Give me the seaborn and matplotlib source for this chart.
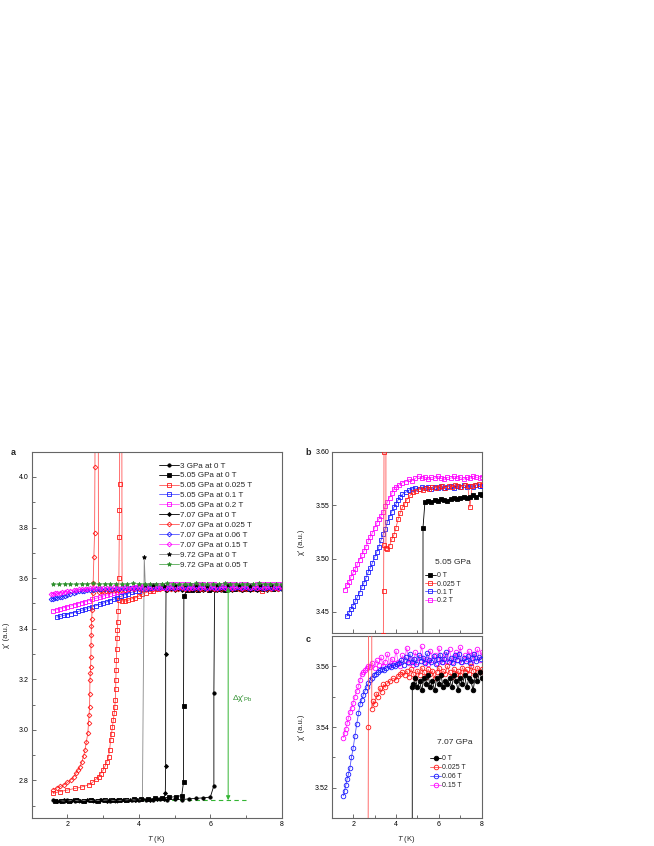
import matplotlib
matplotlib.use("Agg")
import matplotlib.pyplot as plt
import seaborn as sns
from matplotlib.ticker import MultipleLocator, FormatStrFormatter

# ---------------- data ----------------
# 3 GPa at 0 T
g3_T = [1.6, 1.8, 2.0, 2.2, 2.4, 2.6, 2.8, 3.0, 3.2, 3.4, 3.6, 3.8, 4.0, 4.2, 4.4, 4.6, 4.8, 5.0, 5.2, 5.4,
        5.6, 5.8, 6.0, 6.1, 6.1, 6.12, 6.3, 6.5, 6.7, 6.9, 7.1, 7.3, 7.5, 7.7, 7.9, 8.0]
g3_chi = [2.721, 2.719, 2.722, 2.720, 2.718, 2.721, 2.719, 2.722, 2.720, 2.721, 2.723, 2.721, 2.722, 2.724,
          2.722, 2.725, 2.723, 2.726, 2.724, 2.727, 2.729, 2.731, 2.734, 2.779, 3.145, 3.552,
          3.554, 3.553, 3.555, 3.554, 3.556, 3.555, 3.557, 3.556, 3.558, 3.557]

# 5.05 GPa (panel a and b)
p5_0T_T = [1.65, 1.85, 2.05, 2.25, 2.45, 2.65, 2.85, 3.05, 3.25, 3.45, 3.65, 3.85, 4.05, 4.25, 4.45, 4.65,
           4.85, 5.05, 5.2, 5.25, 5.25, 5.26, 5.35, 5.5, 5.65, 5.8, 5.95, 6.1, 6.25, 6.4, 6.55, 6.7, 6.85,
           7.0, 7.15, 7.3, 7.45, 7.6, 7.75, 7.9, 8.0]
p5_0T_chi = [2.717, 2.720, 2.718, 2.721, 2.719, 2.722, 2.720, 2.723, 2.721, 2.724, 2.722, 2.725, 2.727,
             2.726, 2.729, 2.731, 2.733, 2.736, 2.740, 2.794, 3.094, 3.529, 3.553, 3.554, 3.553, 3.555,
             3.554, 3.556, 3.555, 3.554, 3.556, 3.557, 3.556, 3.557, 3.558, 3.557, 3.558, 3.559, 3.558,
             3.560, 3.559]

p5_0025T_T = [1.6, 1.8, 2.0, 2.2, 2.4, 2.6, 2.7, 2.8, 2.87, 2.93, 3.0, 3.05, 3.1, 3.15, 3.18, 3.21, 3.235,
              3.26, 3.285, 3.31, 3.325, 3.34, 3.35, 3.355, 3.362, 3.37, 3.38, 3.39, 3.40, 3.41, 3.42, 3.43,
              3.44, 3.45, 3.455, 3.46, 3.47, 3.52, 3.53, 3.6, 3.7, 3.8, 3.9, 4.0, 4.1, 4.2, 4.3, 4.4, 4.5,
              4.65, 4.8, 4.95, 5.1, 5.25, 5.4, 5.55, 5.7, 5.85, 6.0, 6.15, 6.3, 6.45, 6.6, 6.75, 6.9, 7.05,
              7.2, 7.35, 7.45, 7.55, 7.7, 7.85, 8.0]
p5_0025T_chi = [2.749, 2.756, 2.762, 2.768, 2.774, 2.783, 2.792, 2.805, 2.815, 2.827, 2.841, 2.855, 2.872,
                2.893, 2.920, 2.960, 2.985, 3.012, 3.040, 3.065, 3.090, 3.118, 3.160, 3.197, 3.235, 3.276,
                3.320, 3.362, 3.395, 3.428, 3.470, 3.513, 3.600, 3.763, 3.870, 3.974, 4.500, 4.500, 3.510,
                3.509, 3.512, 3.518, 3.522, 3.529, 3.537, 3.543, 3.548, 3.551, 3.555, 3.559, 3.562, 3.563,
                3.565, 3.564, 3.566, 3.565, 3.567, 3.566, 3.567, 3.568, 3.566, 3.568, 3.567, 3.569, 3.568,
                3.567, 3.569, 3.568, 3.548, 3.568, 3.569, 3.570, 3.569]

p5_01T_T = [1.7, 1.8, 1.9, 2.0, 2.1, 2.2, 2.3, 2.4, 2.5, 2.6, 2.7, 2.8, 2.9, 3.0, 3.1, 3.2, 3.3, 3.4, 3.5,
            3.6, 3.7, 3.8, 3.9, 4.0, 4.1, 4.2, 4.3, 4.45, 4.6, 4.75, 4.9, 5.05, 5.2, 5.35, 5.5, 5.65, 5.8,
            5.95, 6.1, 6.25, 6.4, 6.55, 6.7, 6.85, 7.0, 7.15, 7.3, 7.45, 7.6, 7.75, 7.9, 8.0]
p5_01T_chi = [3.446, 3.449, 3.453, 3.456, 3.460, 3.464, 3.468, 3.473, 3.477, 3.482, 3.487, 3.491, 3.496,
              3.501, 3.506, 3.511, 3.517, 3.523, 3.528, 3.534, 3.539, 3.544, 3.548, 3.551, 3.555, 3.558,
              3.560, 3.562, 3.564, 3.565, 3.566, 3.565, 3.567, 3.566, 3.567, 3.565, 3.567, 3.566, 3.568,
              3.566, 3.567, 3.568, 3.566, 3.568, 3.567, 3.569, 3.567, 3.568, 3.567, 3.569, 3.568, 3.568]

p5_02T_T = [1.6, 1.7, 1.8, 1.9, 2.0, 2.1, 2.2, 2.3, 2.4, 2.5, 2.6, 2.7, 2.8, 2.9, 3.0, 3.1, 3.2, 3.3, 3.4,
            3.5, 3.6, 3.7, 3.8, 3.9, 4.0, 4.15, 4.3, 4.45, 4.6, 4.75, 4.9, 5.05, 5.2, 5.35, 5.5, 5.65, 5.8,
            5.95, 6.1, 6.25, 6.4, 6.55, 6.7, 6.85, 7.0, 7.15, 7.3, 7.45, 7.6, 7.75, 7.9, 8.0]
p5_02T_chi = [3.471, 3.475, 3.478, 3.483, 3.487, 3.490, 3.495, 3.499, 3.503, 3.507, 3.511, 3.516, 3.520,
              3.524, 3.529, 3.533, 3.537, 3.540, 3.544, 3.549, 3.553, 3.557, 3.561, 3.565, 3.567, 3.569,
              3.571, 3.572, 3.574, 3.573, 3.575, 3.577, 3.575, 3.576, 3.574, 3.576, 3.575, 3.577, 3.575,
              3.574, 3.576, 3.575, 3.577, 3.575, 3.576, 3.574, 3.576, 3.575, 3.577, 3.576, 3.575, 3.576]

# 7.07 GPa (panel a and c)
p7_0T_T = [1.7, 1.9, 2.1, 2.3, 2.5, 2.7, 2.9, 3.1, 3.3, 3.5, 3.7, 3.9, 4.1, 4.3, 4.5, 4.7, 4.74, 4.75, 4.75,
           4.76, 4.8, 4.9, 5.0, 5.1, 5.2, 5.3, 5.4, 5.5, 5.6, 5.7, 5.8, 5.9, 6.0, 6.1, 6.2, 6.3, 6.4, 6.5,
           6.6, 6.7, 6.8, 6.9, 7.0, 7.1, 7.2, 7.3, 7.4, 7.5, 7.6, 7.7, 7.8, 7.9, 8.0]
p7_0T_chi = [2.719, 2.721, 2.718, 2.722, 2.720, 2.721, 2.723, 2.720, 2.722, 2.724, 2.721, 2.723, 2.725,
             2.724, 2.726, 2.728, 2.749, 2.856, 3.299, 3.553, 3.554, 3.556, 3.553, 3.555, 3.552, 3.556,
             3.554, 3.557, 3.553, 3.555, 3.552, 3.556, 3.554, 3.557, 3.553, 3.555, 3.554, 3.556, 3.553,
             3.557, 3.555, 3.552, 3.556, 3.554, 3.557, 3.553, 3.556, 3.555, 3.552, 3.557, 3.555, 3.558,
             3.556]

p7_0025T_T = [1.6, 1.7, 1.8, 1.9, 2.0, 2.1, 2.17, 2.25, 2.3, 2.35, 2.4, 2.45, 2.49, 2.53, 2.57, 2.59, 2.605,
              2.62, 2.625, 2.63, 2.64, 2.65, 2.655, 2.66, 2.665, 2.67, 2.68, 2.69, 2.71, 2.72, 2.74, 2.76,
              2.77, 2.78, 2.86, 2.87, 2.94, 3.0, 3.08, 3.16, 3.25, 3.33, 3.41, 3.5, 3.6, 3.72, 3.85, 4.0,
              4.1, 4.2, 4.3, 4.4, 4.5, 4.6, 4.7, 4.8, 4.9, 5.0, 5.1, 5.2, 5.3, 5.4, 5.5, 5.6, 5.7, 5.8,
              5.9, 6.0, 6.1, 6.2, 6.3, 6.4, 6.5, 6.6, 6.7, 6.8, 6.9, 7.0, 7.1, 7.2, 7.3, 7.4, 7.5, 7.6,
              7.7, 7.8, 7.9, 8.0]
p7_0025T_chi = [2.764, 2.770, 2.776, 2.782, 2.792, 2.803, 2.814, 2.830, 2.842, 2.854, 2.872, 2.895, 2.920,
                2.953, 2.986, 3.026, 3.060, 3.092, 3.140, 3.197, 3.225, 3.250, 3.290, 3.336, 3.375, 3.410,
                3.440, 3.474, 3.540, 3.580, 3.684, 3.780, 4.040, 4.600, 4.600, 3.546, 3.5485, 3.5475,
                3.5510, 3.5500, 3.5529, 3.5515, 3.5540, 3.5530, 3.5545, 3.5550, 3.5560, 3.5555, 3.5568,
                3.5575, 3.5580, 3.5570, 3.5585, 3.5565, 3.5590, 3.5575, 3.5560, 3.5585, 3.5570, 3.5595,
                3.5580, 3.5565, 3.5590, 3.5575, 3.5585, 3.5560, 3.5580, 3.5595, 3.5570, 3.5585, 3.5575,
                3.5600, 3.5580, 3.5565, 3.5590, 3.5575, 3.5585, 3.5570, 3.5595, 3.5580, 3.5590, 3.5575,
                3.5600, 3.5585, 3.5570, 3.5595, 3.5580, 3.5590]

p7_006T_T = [1.54, 1.6, 1.66, 1.72, 1.78, 1.85, 1.92, 2.0, 2.08, 2.17, 2.25, 2.32, 2.4, 2.47, 2.55, 2.63,
             2.71, 2.79, 2.87, 2.95, 3.05, 3.15, 3.25, 3.35, 3.45, 3.55, 3.65, 3.75, 3.85, 3.95, 4.05,
             4.15, 4.25, 4.35, 4.45, 4.55, 4.65, 4.75, 4.85, 4.95, 5.05, 5.15, 5.25, 5.35, 5.45, 5.55,
             5.65, 5.75, 5.85, 5.95, 6.05, 6.15, 6.25, 6.35, 6.45, 6.55, 6.65, 6.75, 6.85, 6.95, 7.05,
             7.15, 7.25, 7.35, 7.45, 7.55, 7.65, 7.75, 7.85, 7.95]
p7_006T_chi = [3.5174, 3.5190, 3.5210, 3.5230, 3.5245, 3.5266, 3.5300, 3.5330, 3.5370, 3.5410, 3.5445,
               3.5474, 3.5490, 3.5505, 3.5518, 3.5530, 3.5545, 3.5555, 3.5562, 3.5570, 3.5575, 3.5580,
               3.5586, 3.5590, 3.5588, 3.5595, 3.5600, 3.5598, 3.5605, 3.5602, 3.5608,
               3.5610, 3.5620, 3.5605, 3.5630, 3.5615, 3.5640, 3.5612, 3.5625, 3.5608, 3.5635, 3.5618,
               3.5628, 3.5610, 3.5642, 3.5620, 3.5615, 3.5632, 3.5608, 3.5625, 3.5638, 3.5612, 3.5622,
               3.5645, 3.5615, 3.5628, 3.5610, 3.5635, 3.5620, 3.5640, 3.5612, 3.5626, 3.5618, 3.5634,
               3.5610, 3.5628, 3.5640, 3.5616, 3.5630, 3.5622]

p7_015T_T = [1.54, 1.6, 1.66, 1.72, 1.78, 1.85, 1.93, 2.0, 2.08, 2.17, 2.25, 2.32, 2.4, 2.48, 2.56, 2.63,
             2.71, 2.8, 2.9, 3.0, 3.1, 3.2, 3.3, 3.4, 3.5, 3.6, 3.7, 3.8, 3.9, 4.0, 4.1, 4.2, 4.3, 4.4,
             4.5, 4.6, 4.7, 4.8, 4.9, 5.0, 5.1, 5.2, 5.3, 5.4, 5.5, 5.6, 5.7, 5.8, 5.9, 6.0, 6.1, 6.2,
             6.3, 6.4, 6.5, 6.6, 6.7, 6.8, 6.9, 7.0, 7.1, 7.2, 7.3, 7.4, 7.5, 7.6, 7.7, 7.8, 7.9, 8.0]
p7_015T_chi = [3.5365, 3.5380, 3.5395, 3.5412, 3.5430, 3.5450, 3.5463, 3.5480, 3.5500, 3.5518, 3.5535,
               3.5555, 3.5573, 3.5580, 3.5588, 3.5595, 3.5600, 3.5598,
               3.5610, 3.5595, 3.5620, 3.5605, 3.5630, 3.5600, 3.5615, 3.5640, 3.5605, 3.5625,
               3.5610, 3.5650, 3.5615, 3.5600, 3.5635, 3.5620, 3.5660, 3.5610, 3.5625, 3.5605,
               3.5645, 3.5615, 3.5630, 3.5665, 3.5612, 3.5625, 3.5608, 3.5650, 3.5620, 3.5635,
               3.5610, 3.5660, 3.5625, 3.5615, 3.5640, 3.5618, 3.5655, 3.5612, 3.5630, 3.5645,
               3.5620, 3.5662, 3.5615, 3.5635, 3.5625, 3.5650, 3.5610, 3.5640, 3.5628, 3.5655,
               3.5620, 3.5645]

# 9.72 GPa
g9_0T_T = [1.75, 1.95, 2.15, 2.35, 2.55, 2.75, 2.95, 3.15, 3.35, 3.55, 3.75, 3.95, 4.1, 4.15, 4.18, 4.4,
           4.7, 5.0, 5.3, 5.6, 5.9, 6.2, 6.5, 6.8, 7.1, 7.4, 7.7, 8.0]
g9_0T_chi = [2.720, 2.718, 2.721, 2.719, 2.722, 2.720, 2.721, 2.723, 2.720, 2.722, 2.724, 2.722, 2.725,
             3.684, 3.571, 3.572, 3.570, 3.573, 3.571, 3.572, 3.570, 3.573, 3.571, 3.572, 3.570, 3.573,
             3.571, 3.572]
g9_005T_T = [1.6, 1.76, 1.92, 2.08, 2.24, 2.4, 2.56, 2.72, 2.88, 3.04, 3.2, 3.36, 3.52, 3.68, 3.84, 4.0,
             4.16, 4.32, 4.48, 4.64, 4.8, 4.96, 5.12, 5.28, 5.44, 5.6, 5.76, 5.92, 6.08, 6.24, 6.4, 6.56,
             6.72, 6.88, 7.04, 7.2, 7.36, 7.52, 7.68, 7.84, 8.0]
g9_005T_chi = [3.577, 3.576, 3.578, 3.577, 3.576, 3.578, 3.577, 3.579, 3.576, 3.578, 3.577, 3.578, 3.576,
               3.577, 3.579, 3.577, 3.578, 3.576, 3.578, 3.577, 3.579, 3.577, 3.576, 3.578, 3.577, 3.579,
               3.578, 3.576, 3.578, 3.577, 3.579, 3.577, 3.578, 3.576, 3.578, 3.577, 3.579, 3.578, 3.577,
               3.578, 3.577]

# superconducting step of Pb (panel a annotation)
pb_base = 2.722
pb_normal = 3.563
pb_arrow_T = 6.5
pb_dash_T = [3.6, 7.0]

# ---------------- style ----------------
sns.set_style("ticks")
plt.rcParams["font.family"] = ["Liberation Sans", "DejaVu Sans"]
plt.rcParams["mathtext.fontset"] = "custom"
plt.rcParams["mathtext.rm"] = "Liberation Sans"
plt.rcParams["mathtext.it"] = "Liberation Sans:italic"

BLACK = "#000000"
RED = "#ff1a1a"
BLUE = "#1a1aff"
MAG = "#ff00ff"
GREEN = "#2d8f2d"


def draw(ax, T, chi, color, marker, filled, ms, label=None, lc=None, z=2):
    sns.lineplot(x=T, y=chi, ax=ax, estimator=None, sort=False,
                 color=lc if lc else color, lw=0.6, marker=marker, markersize=ms,
                 markerfacecolor=color if filled else "none",
                 markeredgecolor=color, markeredgewidth=0.6, label=label, zorder=z)


def style_axes(ax):
    for s in ax.spines.values():
        s.set_color("#666666")
        s.set_linewidth(0.8)
    ax.tick_params(which="both", direction="in", colors="#555555", labelcolor="black",
                   labelsize=5, width=0.6, top=False, right=False)
    ax.tick_params(which="major", length=3, pad=2)
    ax.tick_params(which="minor", length=2)
    ax.set_xlim(1, 8)
    ax.xaxis.set_major_locator(MultipleLocator(2))
    ax.xaxis.set_minor_locator(MultipleLocator(1))


fig = plt.figure(figsize=(6.54, 8.46), dpi=100)
ax_a = fig.add_axes([0.0485, 0.0327, 0.3823, 0.4334])
ax_b = fig.add_axes([0.5072, 0.2514, 0.2294, 0.2147])
ax_c = fig.add_axes([0.5072, 0.0327, 0.2294, 0.2159])

# ---------------- panel a ----------------
ms_a = 2.4
draw(ax_a, g3_T, g3_chi, BLACK, "o", True, ms_a, "3 GPa at 0 T")
draw(ax_a, p5_0T_T, p5_0T_chi, BLACK, "s", True, ms_a, "5.05 GPa at 0 T")
draw(ax_a, p5_0025T_T, p5_0025T_chi, RED, "s", False, ms_a, "5.05 GPa at 0.025 T", lc="#ff5555")
draw(ax_a, p5_01T_T, p5_01T_chi, BLUE, "s", False, ms_a, "5.05 GPa at 0.1 T", lc="#5555ff")
draw(ax_a, p5_02T_T, p5_02T_chi, MAG, "s", False, ms_a, "5.05 GPa at 0.2 T", lc="#ff55ff")
draw(ax_a, p7_0T_T, p7_0T_chi, BLACK, "D", True, ms_a * 0.85, "7.07 GPa at 0 T")
draw(ax_a, p7_0025T_T, p7_0025T_chi, RED, "D", False, ms_a, "7.07 GPa at 0.025 T", lc="#ff5555")
draw(ax_a, p7_006T_T, p7_006T_chi, BLUE, "D", False, ms_a, "7.07 GPa at 0.06 T", lc="#5555ff")
draw(ax_a, p7_015T_T, p7_015T_chi, MAG, "D", False, ms_a, "7.07 GPa at 0.15 T", lc="#ff55ff")
draw(ax_a, g9_0T_T, g9_0T_chi, BLACK, "*", True, ms_a * 1.3, "9.72 GPa at 0 T", lc="#888888")
draw(ax_a, g9_005T_T, g9_005T_chi, GREEN, "*", True, ms_a * 1.3, "9.72 GPa at 0.05 T", lc="#55aa55")

ax_a.plot(pb_dash_T, [pb_base, pb_base], ls=(0, (4, 3)), color="#33b533", lw=0.8, zorder=1)
ax_a.annotate("", xy=(pb_arrow_T, pb_normal), xytext=(pb_arrow_T, pb_base),
              arrowprops=dict(arrowstyle="<|-|>", color="#33b533", lw=0.7,
                              shrinkA=0, shrinkB=0, mutation_scale=6))
ax_a.text(pb_arrow_T + 0.1, 3.125, "Δχ'$_{\\mathrm{Pb}}$", color="#2d8f2d", fontsize=6,
          ha="left", va="center")

style_axes(ax_a)
ax_a.set_ylim(2.65, 4.1)
ax_a.yaxis.set_major_locator(MultipleLocator(0.2))
ax_a.yaxis.set_minor_locator(MultipleLocator(0.1))
ax_a.yaxis.set_major_formatter(FormatStrFormatter("%.1f"))
ax_a.set_xlabel("$T$ (K)", fontsize=5.5)
ax_a.set_ylabel("χ' (a.u.)", fontsize=5.5)
ax_a.xaxis.set_label_coords(0.5, -0.044)
ax_a.yaxis.set_label_coords(-0.085, 0.5)
ax_a.legend(loc="upper left", bbox_to_anchor=(0.51, 0.972), frameon=False, fontsize=5.8,
            handlelength=2.4, handletextpad=0.2, labelspacing=0.28, borderpad=0, borderaxespad=0)

# ---------------- panel b ----------------
ms_b = 3.5
draw(ax_b, p5_0T_T, p5_0T_chi, BLACK, "s", True, ms_b, "0 T", z=5)
draw(ax_b, p5_0025T_T, p5_0025T_chi, RED, "s", False, ms_b, "0.025 T", lc="#ff5555", z=4)
draw(ax_b, p5_01T_T, p5_01T_chi, BLUE, "s", False, ms_b, "0.1 T", lc="#5555ff", z=3)
draw(ax_b, p5_02T_T, p5_02T_chi, MAG, "s", False, ms_b, "0.2 T", lc="#ff55ff", z=2)
style_axes(ax_b)
ax_b.set_ylim(3.43, 3.60)
ax_b.yaxis.set_major_locator(MultipleLocator(0.05))
ax_b.yaxis.set_major_formatter(FormatStrFormatter("%.2f"))
ax_b.tick_params(labelbottom=False)
ax_b.set_ylabel("χ' (a.u.)", fontsize=5.5)
ax_b.yaxis.set_label_coords(-0.175, 0.5)
ax_b.text(5.82, 3.496, "5.05 GPa", fontsize=6, ha="left", va="center")
ax_b.legend(loc="upper left", bbox_to_anchor=(0.62, 0.335), frameon=False, fontsize=5,
            handlelength=1.6, handletextpad=0.2, labelspacing=0.17, borderpad=0, borderaxespad=0)

# ---------------- panel c ----------------
ms_c = 3.3
draw(ax_c, p7_0T_T, p7_0T_chi, BLACK, "o", True, ms_c, "0 T", z=5)
draw(ax_c, p7_0025T_T, p7_0025T_chi, RED, "o", False, ms_c, "0.025 T", lc="#ff5555", z=4)
draw(ax_c, p7_006T_T, p7_006T_chi, BLUE, "o", False, ms_c, "0.06 T", lc="#5555ff", z=3)
draw(ax_c, p7_015T_T, p7_015T_chi, MAG, "o", False, ms_c, "0.15 T", lc="#ff55ff", z=2)
style_axes(ax_c)
ax_c.set_ylim(3.51, 3.57)
ax_c.yaxis.set_major_locator(MultipleLocator(0.02))
ax_c.yaxis.set_minor_locator(MultipleLocator(0.01))
ax_c.yaxis.set_major_formatter(FormatStrFormatter("%.2f"))
ax_c.set_xlabel("$T$ (K)", fontsize=5.5)
ax_c.set_ylabel("χ' (a.u.)", fontsize=5.5)
ax_c.xaxis.set_label_coords(0.5, -0.088)
ax_c.yaxis.set_label_coords(-0.175, 0.5)
ax_c.text(5.9, 3.5348, "7.07 GPa", fontsize=6, ha="left", va="center")
ax_c.legend(loc="upper left", bbox_to_anchor=(0.655, 0.345), frameon=False, fontsize=5,
            handlelength=1.6, handletextpad=0.2, labelspacing=0.27, borderpad=0, borderaxespad=0)

# panel letters
fig.text(11 / 654, 1 - 452.7 / 846, "a", fontsize=6.5, weight="bold", va="center")
fig.text(305.7 / 654, 1 - 452.3 / 846, "b", fontsize=6.5, weight="bold", va="center")
fig.text(305.7 / 654, 1 - 639.3 / 846, "c", fontsize=6.5, weight="bold", va="center")

fig.savefig("out.png", dpi=100)
